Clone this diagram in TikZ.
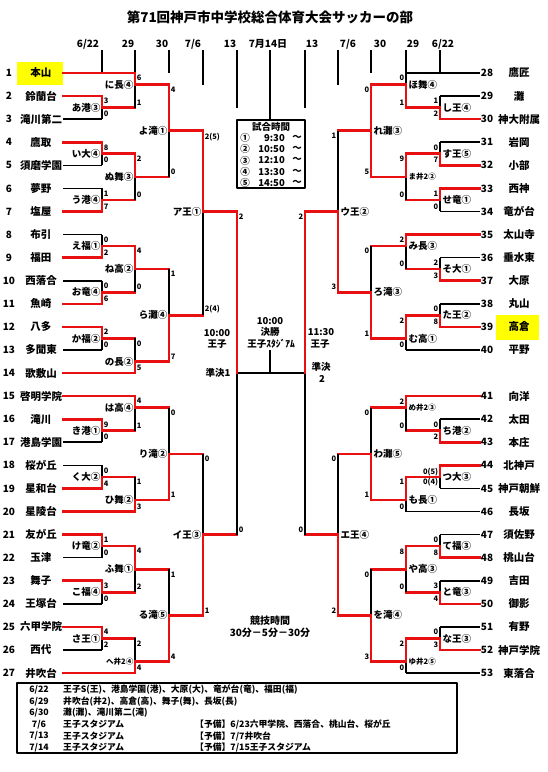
\documentclass[tikz,border=0pt]{standalone}
\usepackage{fontspec}
\setmainfont{Noto Sans CJK JP}
\usepackage{xcolor}
\definecolor{winred}{RGB}{232,16,16}
\definecolor{hiyellow}{RGB}{255,255,0}
\tikzset{
  win/.style={draw=winred,line width=2.6pt,line cap=rect},
  lose/.style={draw=black,line width=1.6pt},
  datetick/.style={draw=black,line width=1.6pt},
  boxline/.style={draw=black,line width=1.8pt},
  team/.style={font=\fontsize{10.5}{12}\selectfont\bfseries,inner sep=0pt},
  num/.style={font=\fontsize{10}{12}\selectfont\bfseries,inner sep=0pt},
  hdr/.style={font=\fontsize{10}{12}\selectfont\bfseries,inner sep=0pt},
  mlab/.style={font=\fontsize{9.5}{11}\selectfont\bfseries,inner sep=0pt},
  smlab/.style={font=\fontsize{7.5}{9}\selectfont\bfseries,inner sep=0pt},
  score/.style={font=\fontsize{7.5}{8}\selectfont\bfseries,inner sep=0.4pt},
  info/.style={font=\fontsize{9.5}{11}\selectfont\bfseries,inner sep=0pt},
  legend/.style={font=\fontsize{8.8}{10}\selectfont\bfseries,inner sep=0pt},
}

\begin{document}
\begin{tikzpicture}[x=1pt,y=-1pt,line join=round]
  \useasboundingbox (0,0) rectangle (547,772);
  \node[font=\fontsize{13.5}{15}\selectfont\bfseries] (title) at (270,17) {第71回神戸市中学校総合体育大会サッカーの部};
  \foreach \x/\d [count=\i] in {88/{6/22},128/29,162/30,193/{7/6},230/13,268/{7月14日},312/13,348/{7/6},380/30,413/29,443/{6/22}}
    \node[hdr] (h\i) at (\x,44) {\d};
  \foreach \x/\y in {102/73,135/73,169/73,203/85,237/108,270/120,305/108,338/85,371/73,406/73,440/73}
    \draw[datetick] (\x,50) -- (\x,\y);

  % match times
  \draw[boxline] (237,120) rectangle (305,188);
  \node[info] (times) at (271,127) {試合時間};
  \foreach \c/\t [count=\i] in {①/9:30,②/10:50,③/12:10,④/13:30,⑤/14:50} {
    \node[info] (tc\i) at (245,{126.5+11.3*\i}) {\c};
    \node[info,anchor=east] (tt\i) at (285,{126.5+11.3*\i}) {\t};
    \node[info] (tw\i) at (297,{126.5+11.3*\i}) {～};
  }

  \begin{scope}[yshift=-73pt,y=-11.54pt]
  \fill[hiyellow] (17,-0.95) rectangle (63,1.05);
  \fill[hiyellow] (496,20.95) rectangle (539,23.1);
  % left half
  \foreach \n/\name/\k/\xe/\s in {1/本山/0/135/win,2/鈴蘭台/2/102/win,3/滝川第二/4/102/lose,
      4/鷹取/6/102/win,5/須磨学園/8/102/lose,6/夢野/10/102/lose,7/塩屋/12/102/win,
      8/布引/14/102/lose,9/福田/16/102/win,10/西落合/18/102/lose,11/魚崎/20/102/win,
      12/八多/22/102/win,13/多聞東/24/102/lose,14/歌敷山/26/135/win,15/啓明学院/28/135/win,
      16/滝川/30/102/win,17/港島学園/32/102/lose,18/桜が丘/34/102/lose,19/星和台/36/102/win,
      20/星陵台/38/135/win,21/友が丘/40/102/win,22/玉津/42/102/lose,23/舞子/44/102/win,
      24/王塚台/46/102/lose,25/六甲学院/48/102/win,26/西代/50/102/lose,27/井吹台/52/135/win} {
    \node[num] (n\n) at (9,\k) {\n};
    \node[team] (t\n) at (41,\k) {\name};
    \draw[\s] (63,\k) -- (\xe,\k);
  }
  \foreach \c/\t/\b/\e/\nx/\tc/\bc/\lab/\st/\sb/\ls in {
      102/2/4/3/135/win/lose/あ港③/3/0/mlab,102/6/8/7/135/win/lose/い大④/8/0/mlab,
      102/10/12/11/135/lose/win/う港④/1/7/mlab,102/14/16/15/135/lose/win/え福①/0/2/mlab,
      102/18/20/19/135/lose/win/お竜④/0/6/mlab,102/22/24/23/135/win/lose/か福②/2/0/mlab,
      102/30/32/31/135/win/lose/き港①/9/0/mlab,102/34/36/35/135/lose/win/く大②/0/4/mlab,
      102/40/42/41/135/win/lose/け竜②/1/0/mlab,102/44/46/45/135/win/lose/こ福④/3/0/mlab,
      102/48/50/49/135/win/lose/さ王①/4/2/mlab,
      135/0/3/1/169/win/lose/に長④/6/1/mlab,135/7/11/9/169/win/lose/ぬ舞③/2/0/mlab,
      135/15/19/17/169/win/lose/ね高②/4/0/mlab,135/23/26/25/169/lose/win/の長②/0/5/mlab,
      135/28/31/29/169/win/lose/は高④/4/1/mlab,135/35/38/37/169/lose/win/ひ舞②/1/3/mlab,
      135/41/45/43/169/win/lose/ふ舞①/4/2/mlab,135/49/52/51/169/lose/win/へ井2④/2/4/smlab,
      169/1/9/5/203/win/lose/よ滝①/4/0/mlab,169/17/25/21/203/lose/win/ら灘④/1/7/mlab,
      169/29/37/33/203/lose/win/り滝②/0/1/mlab,169/43/51/47/203/lose/win/る滝⑤/1/4/mlab,
      203/5/21/12/237/win/lose/ア王①/2(5)/2(4)/mlab,203/33/47/40/237/lose/win/イ王③/0/1/mlab} {
    \draw[\tc] (\c,\t) -- (\c,\e);
    \draw[\bc] (\c,\e) -- (\c,\b);
    \draw[win] (\c,\e) -- (\nx,\e);
    \node[\ls,anchor=east] (L\e) at ({\c-1.5},\e) {\lab};
    \node[score,anchor=north west] at ({\c+1.2},{\t+0.15}) {\st};
    \node[score,anchor=south west] at ({\c+1.2},{\b-0.15}) {\sb};
  }
  % right half
  \foreach \n/\name/\k/\xe/\s in {28/鷹匠/0/406/lose,29/灘/2/440/lose,30/神大附属/4/440/win,
      31/岩岡/6/440/lose,32/小部/8/440/win,33/西神/10/440/win,34/竜が台/12/440/lose,
      35/太山寺/14/406/win,36/垂水東/16/440/lose,37/大原/18/440/win,38/丸山/20/440/lose,
      39/高倉/22/440/win,40/平野/24/406/lose,41/向洋/28/406/win,42/太田/30/440/lose,
      43/本庄/32/440/win,44/北神戸/34/440/win,45/神戸朝鮮/36/440/lose,46/長坂/38/406/lose,
      47/須佐野/40/440/lose,48/桃山台/42/440/win,49/吉田/44/440/lose,50/御影/46/440/win,
      51/有野/48/440/lose,52/神戸学院/50/440/win,53/東落合/52/406/lose} {
    \node[num] (n\n) at (487,\k) {\n};
    \node[team] (t\n) at (519,\k) {\name};
    \draw[\s] (480,\k) -- (\xe,\k);
  }
  \foreach \c/\t/\b/\e/\nx/\tc/\bc/\lab/\st/\sb/\ls in {
      440/2/4/3/406/lose/win/し王④/1/2/mlab,440/6/8/7/406/lose/win/す王⑤/0/7/mlab,
      440/10/12/11/406/win/lose/せ竜①/1/0/mlab,440/16/18/17/406/lose/win/そ大①/2/3/mlab,
      440/20/22/21/406/lose/win/た王②/0/8/mlab,440/30/32/31/406/lose/win/ち港②/0/2/mlab,
      440/34/36/35/406/win/lose/つ大③/0(5)/0(4)/mlab,440/40/42/41/406/lose/win/て福③/0/8/mlab,
      440/44/46/45/406/lose/win/と竜③/3/4/mlab,440/48/50/49/406/lose/win/な王③/0/3/mlab,
      406/0/3/1/371/lose/win/ほ舞④/0/1/mlab,406/7/11/9/371/win/lose/ま井2②/9/0/smlab,
      406/14/17/15/371/win/lose/み長③/2/0/mlab,406/21/24/23/371/win/lose/む高①/2/0/mlab,
      406/28/31/29/371/win/lose/め井2③/2/0/smlab,406/35/38/37/371/win/lose/も長①/1/0/mlab,
      406/41/45/43/371/win/lose/や高③/8/0/mlab,406/49/52/51/371/win/lose/ゆ井2⑤/2/0/smlab,
      371/1/9/5/338/win/win/れ灘③/0/5/mlab,371/15/23/19/338/lose/win/ろ滝③/0/1/mlab,
      371/29/37/33/338/lose/win/わ灘⑤/0/1/mlab,371/43/51/47/338/lose/win/を滝④/0/3/mlab,
      338/5/19/12/305/lose/win/ウ王②/1/3/mlab,338/33/47/40/305/lose/win/エ王④/0/2/mlab} {
    \draw[\tc] (\c,\t) -- (\c,\e);
    \draw[\bc] (\c,\e) -- (\c,\b);
    \draw[win] (\c,\e) -- (\nx,\e);
    \node[\ls,anchor=west] (R\e) at ({\c+2.5},\e) {\lab};
    \node[score,anchor=north east] at ({\c-1.2},{\t+0.15}) {\st};
    \node[score,anchor=south east] at ({\c-1.2},{\b-0.15}) {\sb};
  }
  % semifinals and final
  \coordinate (sf1) at (237,26); \coordinate (sf2) at (305,26); \coordinate (fin) at (270,24);
  \draw[lose] (237,26) -- (237,40); \draw[lose] (305,26) -- (305,40);
  \draw[lose] (sf1) -- (sf2); \draw[lose] (fin) -- (270,26);
  \draw[win] (237,12) -- (sf1); \draw[win] (305,12) -- (sf2);
  \node[score,anchor=north west] at (238.2,12.15) {2}; \node[score,anchor=south west] at (238.2,39.85) {0};
  \node[score,anchor=north east] at (303.8,12.15) {2}; \node[score,anchor=south east] at (303.8,39.85) {0};
  \end{scope}

  \node[info] (s1t) at (217,333) {10:00}; \node[info] (s1p) at (217,344) {王子};
  \node[info] (s1n) at (218,373) {準決1};
  \node[info] (s2t) at (321,332) {11:30}; \node[info] (s2p) at (320,344) {王子};
  \node[info] (s2n) at (321,367) {準決}; \node[info] (s2k) at (322,379) {2};
  \node[info] (ft) at (270,321) {10:00}; \node[info] (fn) at (270,332) {決勝};
  \node[info] (fp) at (271,344) {王子ｽﾀｼﾞｱﾑ};
  \node[info,font=\fontsize{10}{12}\selectfont\bfseries] (pt) at (270,621) {競技時間};
  \node[info,font=\fontsize{10}{12}\selectfont\bfseries] (pd) at (270,633) {30分－5分－30分};

  % venues
  \draw[boxline] (17,683) rectangle (457,753);
  \foreach \d/\txt [count=\i] in {{6/22}/{王子S(王)、港島学園(港)、大原(大)、竜が台(竜)、福田(福)},
      {6/29}/{井吹台(井2)、高倉(高)、舞子(舞)、長坂(長)},{6/30}/{灘(灘)、滝川第二(滝)},
      {7/6}/王子スタジアム,{7/13}/王子スタジアム,{7/14}/王子スタジアム} {
    \node[legend] (d\i) at (39,{678.5+11.5*\i}) {\d};
    \node[legend,anchor=west] (v\i) at (63,{678.5+11.5*\i}) {\txt};
  }
  \foreach \r/\txt in {4/{【予備】6/23六甲学院、西落合、桃山台、桜が丘},5/{【予備】7/7井吹台},6/{【予備】7/15王子スタジアム}}
    \node[legend,anchor=west] (p\r) at (195,{678.5+11.5*\r}) {\txt};
\end{tikzpicture}
\end{document}
